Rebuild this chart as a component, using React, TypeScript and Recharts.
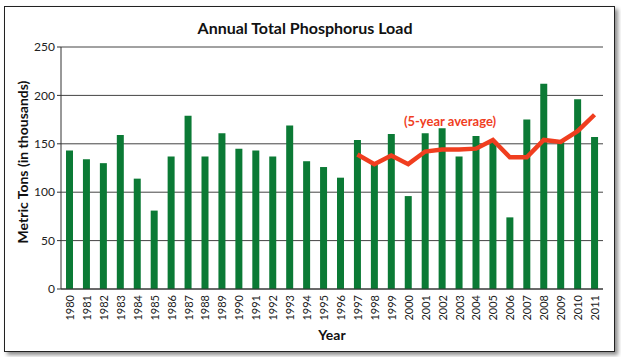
import { ComposedChart, Bar, Line, XAxis, YAxis, CartesianGrid } from 'recharts';

const years = [
    '1980', '1981', '1982', '1983', '1984', '1985', '1986', '1987', '1988', '1989',
    '1990', '1991', '1992', '1993', '1994', '1995', '1996', '1997', '1998', '1999',
    '2000', '2001', '2002', '2003', '2004', '2005', '2006', '2007', '2008', '2009',
    '2010', '2011'
];

// annual load, thousands of metric tons
const load = [
    143, 134, 130, 159, 114, 81, 137, 179, 137, 161,
    145, 143, 137, 169, 132, 126, 115, 154, 131, 160,
    96, 161, 166, 137, 158, 153, 74, 175, 212, 152,
    196, 157
];

// 5-year average starts in 1997
const avgStart = '1997';
const average = [139, 129, 138, 129, 142, 144, 144, 145, 154, 136, 136, 154, 152, 163, 180];

const yTicks = [0, 50, 100, 150, 200, 250];
const boundaryTicks = Array.from({ length: years.length + 1 }, (_, i) => i);

const data = years.map((year, i) => {
    const j = i - years.indexOf(avgStart);
    return {
        year,
        load: load[i],
        avg: j >= 0 ? average[j] : null,
    };
});

const font = 'Lato, "Open Sans", sans-serif';
const green = '#0b7a35';
const red = '#f03e1f';

function YearTick(props: any) {
    const { x, y, payload } = props;
    const ty = y - 2;
    return (
        <text
            x={x}
            y={ty}
            transform={`rotate(-90 ${x} ${ty})`}
            textAnchor="end"
            dominantBaseline="central"
            fontSize={11}
            fontFamily={font}
            fill="#222"
        >
            {payload.value}
        </text>
    );
}

export default function App() {
    return (
        <div style={{ position: 'absolute', left: 0, top: 0, width: 621, height: 357, background: '#fff' }}>
            <div
                style={{
                    position: 'absolute',
                    left: 4,
                    top: 6,
                    width: 609,
                    height: 344,
                    border: '1px solid #222',
                    boxShadow: '3px 3px 4px rgba(0,0,0,0.45)',
                    background: '#fff',
                }}
            />
            <div
                style={{
                    position: 'absolute',
                    left: 0,
                    top: 18,
                    width: 610,
                    textAlign: 'center',
                    fontFamily: font,
                    fontWeight: 700,
                    fontSize: 16,
                    color: '#111',
                }}
            >
                Annual Total Phosphorus Load
            </div>
            <div style={{ position: 'absolute', left: 0, top: 0 }}>
                <ComposedChart
                    width={621}
                    height={357}
                    data={data}
                    margin={{ top: 47, right: 18, left: 0, bottom: 0 }}
                >
                    <CartesianGrid vertical={false} stroke="#444" strokeWidth={1} />
                    <XAxis
                        xAxisId="edges"
                        type="number"
                        domain={[0, years.length]}
                        ticks={boundaryTicks}
                        height={0}
                        tick={false}
                        tickLine={{ stroke: '#333' }}
                        tickSize={5}
                        axisLine={false}
                    />
                    <XAxis
                        dataKey="year"
                        interval={0}
                        height={68}
                        tickLine={false}
                        axisLine={{ stroke: '#333' }}
                        tick={<YearTick />}
                        label={{
                            value: 'Year',
                            position: 'insideBottom',
                            offset: 17,
                            fontFamily: font,
                            fontWeight: 700,
                            fontSize: 14,
                            fill: '#111',
                        }}
                    />
                    <YAxis
                        domain={[0, 250]}
                        ticks={yTicks}
                        width={61}
                        tickSize={4}
                        tickMargin={2}
                        axisLine={{ stroke: '#333' }}
                        tickLine={{ stroke: '#333' }}
                        tick={{ fontSize: 12, fontFamily: font, fill: '#222' }}
                        label={{
                            content: ({ viewBox }: any) => {
                                const cx = 22;
                                const cy = viewBox.y + viewBox.height / 2 - 6;
                                return (
                                    <text
                                        x={cx}
                                        y={cy}
                                        transform={`rotate(-90 ${cx} ${cy})`}
                                        textAnchor="middle"
                                        dominantBaseline="central"
                                        fontFamily={font}
                                        fontWeight={700}
                                        fontSize={14}
                                        fill="#111"
                                    >
                                        Metric Tons (in thousands)
                                    </text>
                                );
                            },
                        }}
                    />
                    <YAxis
                        yAxisId="frame"
                        orientation="right"
                        width={0}
                        tick={false}
                        tickLine={false}
                        axisLine={{ stroke: '#444' }}
                    />
                    <Bar dataKey="load" fill={green} barSize={7} isAnimationActive={false} />
                    <Line
                        dataKey="avg"
                        stroke={red}
                        strokeWidth={4.5}
                        dot={false}
                        type="linear"
                        strokeLinejoin="miter"
                        isAnimationActive={false}
                    />
                </ComposedChart>
            </div>
            <div
                style={{
                    position: 'absolute',
                    left: 395,
                    top: 113,
                    width: 110,
                    textAlign: 'center',
                    fontFamily: font,
                    fontWeight: 700,
                    fontSize: 13,
                    color: red,
                }}
            >
                (5-year average)
            </div>
        </div>
    );
}
